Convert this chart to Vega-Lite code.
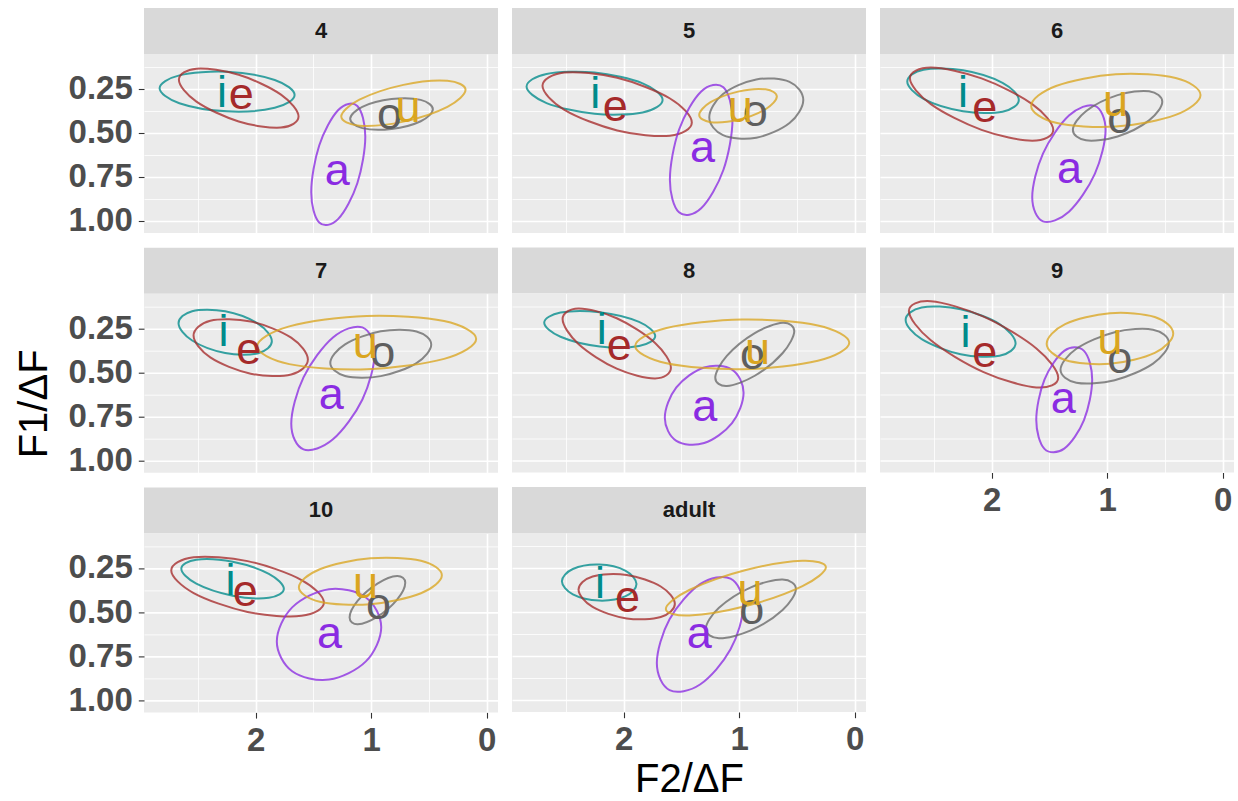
{
"$schema": "https://vega.github.io/schema/vega-lite/v6.json",
"padding": {"left": 15, "top": 8, "right": 0, "bottom": 0},
"title": {"text": "F1/ΔF", "orient": "left", "anchor": "middle", "font": "Liberation Sans", "fontSize": 40, "fontWeight": "normal", "color": "#000000", "offset": 13},
"config": {
  "view": {"stroke": null},
  "axis": {"labelFont": "Liberation Sans", "labelFontSize": 33, "labelFontWeight": "bold", "labelColor": "#4D4D4D", "tickColor": "#333333", "tickSize": 5.7, "tickWidth": 1.1, "labelPadding": 6, "labelFlush": false, "labelOverlap": false, "labelBound": false, "titleFont": "Liberation Sans", "titleFontSize": 40, "titleFontWeight": "normal", "titleColor": "#000000", "titlePadding": 3, "domain": false, "gridColor": "#FFFFFF", "gridOpacity": 1}
},
"datasets": {
"ell": [
{"p":"4","v":"i","k":0,"x":1.663,"y":0.286},{"p":"4","v":"i","k":1,"x":1.835,"y":0.359},{"p":"4","v":"i","k":2,"x":2.248,"y":0.379},{"p":"4","v":"i","k":3,"x":2.661,"y":0.333},{"p":"4","v":"i","k":4,"x":2.832,"y":0.248},{"p":"4","v":"i","k":5,"x":2.661,"y":0.175},{"p":"4","v":"i","k":6,"x":2.248,"y":0.155},{"p":"4","v":"i","k":7,"x":1.835,"y":0.201},
{"p":"4","v":"e","k":0,"x":1.629,"y":0.408},{"p":"4","v":"e","k":1,"x":1.781,"y":0.471},{"p":"4","v":"e","k":2,"x":2.147,"y":0.436},{"p":"4","v":"e","k":3,"x":2.513,"y":0.324},{"p":"4","v":"e","k":4,"x":2.665,"y":0.200},{"p":"4","v":"e","k":5,"x":2.513,"y":0.137},{"p":"4","v":"e","k":6,"x":2.147,"y":0.172},{"p":"4","v":"e","k":7,"x":1.781,"y":0.284},
{"p":"4","v":"a","k":0,"x":1.051,"y":0.521},{"p":"4","v":"a","k":1,"x":1.120,"y":0.786},{"p":"4","v":"a","k":2,"x":1.285,"y":0.988},{"p":"4","v":"a","k":3,"x":1.450,"y":1.009},{"p":"4","v":"a","k":4,"x":1.519,"y":0.837},{"p":"4","v":"a","k":5,"x":1.450,"y":0.572},{"p":"4","v":"a","k":6,"x":1.285,"y":0.371},{"p":"4","v":"a","k":7,"x":1.120,"y":0.349},
{"p":"4","v":"o","k":0,"x":0.466,"y":0.367},{"p":"4","v":"o","k":1,"x":0.571,"y":0.435},{"p":"4","v":"o","k":2,"x":0.824,"y":0.479},{"p":"4","v":"o","k":3,"x":1.077,"y":0.474},{"p":"4","v":"o","k":4,"x":1.182,"y":0.421},{"p":"4","v":"o","k":5,"x":1.077,"y":0.353},{"p":"4","v":"o","k":6,"x":0.824,"y":0.309},{"p":"4","v":"o","k":7,"x":0.571,"y":0.314},
{"p":"4","v":"u","k":0,"x":0.183,"y":0.257},{"p":"4","v":"u","k":1,"x":0.340,"y":0.353},{"p":"4","v":"u","k":2,"x":0.721,"y":0.437},{"p":"4","v":"u","k":3,"x":1.102,"y":0.460},{"p":"4","v":"u","k":4,"x":1.259,"y":0.408},{"p":"4","v":"u","k":5,"x":1.102,"y":0.313},{"p":"4","v":"u","k":6,"x":0.721,"y":0.229},{"p":"4","v":"u","k":7,"x":0.340,"y":0.206},
{"p":"5","v":"i","k":0,"x":1.663,"y":0.314},{"p":"5","v":"i","k":1,"x":1.836,"y":0.385},{"p":"5","v":"i","k":2,"x":2.252,"y":0.393},{"p":"5","v":"i","k":3,"x":2.668,"y":0.332},{"p":"5","v":"i","k":4,"x":2.841,"y":0.238},{"p":"5","v":"i","k":5,"x":2.668,"y":0.167},{"p":"5","v":"i","k":6,"x":2.252,"y":0.159},{"p":"5","v":"i","k":7,"x":1.836,"y":0.220},
{"p":"5","v":"e","k":0,"x":1.410,"y":0.442},{"p":"5","v":"e","k":1,"x":1.599,"y":0.517},{"p":"5","v":"e","k":2,"x":2.056,"y":0.487},{"p":"5","v":"e","k":3,"x":2.513,"y":0.370},{"p":"5","v":"e","k":4,"x":2.703,"y":0.234},{"p":"5","v":"e","k":5,"x":2.513,"y":0.159},{"p":"5","v":"e","k":6,"x":2.056,"y":0.189},{"p":"5","v":"e","k":7,"x":1.599,"y":0.306},
{"p":"5","v":"a","k":0,"x":1.058,"y":0.427},{"p":"5","v":"a","k":1,"x":1.137,"y":0.711},{"p":"5","v":"a","k":2,"x":1.329,"y":0.928},{"p":"5","v":"a","k":3,"x":1.521,"y":0.951},{"p":"5","v":"a","k":4,"x":1.600,"y":0.767},{"p":"5","v":"a","k":5,"x":1.521,"y":0.483},{"p":"5","v":"a","k":6,"x":1.329,"y":0.266},{"p":"5","v":"a","k":7,"x":1.137,"y":0.243},
{"p":"5","v":"o","k":0,"x":0.445,"y":0.314},{"p":"5","v":"o","k":1,"x":0.564,"y":0.445},{"p":"5","v":"o","k":2,"x":0.852,"y":0.528},{"p":"5","v":"o","k":3,"x":1.140,"y":0.514},{"p":"5","v":"o","k":4,"x":1.259,"y":0.412},{"p":"5","v":"o","k":5,"x":1.140,"y":0.281},{"p":"5","v":"o","k":6,"x":0.852,"y":0.198},{"p":"5","v":"o","k":7,"x":0.564,"y":0.212},
{"p":"5","v":"u","k":0,"x":0.674,"y":0.295},{"p":"5","v":"u","k":1,"x":0.772,"y":0.367},{"p":"5","v":"u","k":2,"x":1.010,"y":0.427},{"p":"5","v":"u","k":3,"x":1.248,"y":0.440},{"p":"5","v":"u","k":4,"x":1.346,"y":0.399},{"p":"5","v":"u","k":5,"x":1.248,"y":0.327},{"p":"5","v":"u","k":6,"x":1.010,"y":0.267},{"p":"5","v":"u","k":7,"x":0.772,"y":0.254},
{"p":"6","v":"i","k":0,"x":1.765,"y":0.314},{"p":"6","v":"i","k":1,"x":1.906,"y":0.381},{"p":"6","v":"i","k":2,"x":2.248,"y":0.378},{"p":"6","v":"i","k":3,"x":2.590,"y":0.308},{"p":"6","v":"i","k":4,"x":2.731,"y":0.210},{"p":"6","v":"i","k":5,"x":2.590,"y":0.143},{"p":"6","v":"i","k":6,"x":2.248,"y":0.146},{"p":"6","v":"i","k":7,"x":1.906,"y":0.217},
{"p":"6","v":"e","k":0,"x":1.467,"y":0.484},{"p":"6","v":"e","k":1,"x":1.649,"y":0.545},{"p":"6","v":"e","k":2,"x":2.088,"y":0.484},{"p":"6","v":"e","k":3,"x":2.527,"y":0.338},{"p":"6","v":"e","k":4,"x":2.708,"y":0.192},{"p":"6","v":"e","k":5,"x":2.527,"y":0.131},{"p":"6","v":"e","k":6,"x":2.088,"y":0.192},{"p":"6","v":"e","k":7,"x":1.649,"y":0.338},
{"p":"6","v":"a","k":0,"x":1.014,"y":0.484},{"p":"6","v":"a","k":1,"x":1.107,"y":0.733},{"p":"6","v":"a","k":2,"x":1.331,"y":0.947},{"p":"6","v":"a","k":3,"x":1.556,"y":1.002},{"p":"6","v":"a","k":4,"x":1.649,"y":0.866},{"p":"6","v":"a","k":5,"x":1.556,"y":0.618},{"p":"6","v":"a","k":6,"x":1.331,"y":0.403},{"p":"6","v":"a","k":7,"x":1.107,"y":0.348},
{"p":"6","v":"o","k":0,"x":0.523,"y":0.324},{"p":"6","v":"o","k":1,"x":0.637,"y":0.430},{"p":"6","v":"o","k":2,"x":0.910,"y":0.521},{"p":"6","v":"o","k":3,"x":1.184,"y":0.543},{"p":"6","v":"o","k":4,"x":1.297,"y":0.484},{"p":"6","v":"o","k":5,"x":1.184,"y":0.378},{"p":"6","v":"o","k":6,"x":0.910,"y":0.287},{"p":"6","v":"o","k":7,"x":0.637,"y":0.265},
{"p":"6","v":"u","k":0,"x":0.192,"y":0.286},{"p":"6","v":"u","k":1,"x":0.407,"y":0.399},{"p":"6","v":"u","k":2,"x":0.925,"y":0.465},{"p":"6","v":"u","k":3,"x":1.443,"y":0.444},{"p":"6","v":"u","k":4,"x":1.658,"y":0.348},{"p":"6","v":"u","k":5,"x":1.443,"y":0.235},{"p":"6","v":"u","k":6,"x":0.925,"y":0.169},{"p":"6","v":"u","k":7,"x":0.407,"y":0.190},
{"p":"7","v":"i","k":0,"x":1.860,"y":0.323},{"p":"7","v":"i","k":1,"x":1.978,"y":0.391},{"p":"7","v":"i","k":2,"x":2.264,"y":0.390},{"p":"7","v":"i","k":3,"x":2.550,"y":0.319},{"p":"7","v":"i","k":4,"x":2.668,"y":0.221},{"p":"7","v":"i","k":5,"x":2.550,"y":0.153},{"p":"7","v":"i","k":6,"x":2.264,"y":0.154},{"p":"7","v":"i","k":7,"x":1.978,"y":0.225},
{"p":"7","v":"e","k":0,"x":1.548,"y":0.427},{"p":"7","v":"e","k":1,"x":1.693,"y":0.512},{"p":"7","v":"e","k":2,"x":2.043,"y":0.507},{"p":"7","v":"e","k":3,"x":2.393,"y":0.415},{"p":"7","v":"e","k":4,"x":2.538,"y":0.291},{"p":"7","v":"e","k":5,"x":2.393,"y":0.207},{"p":"7","v":"e","k":6,"x":2.043,"y":0.212},{"p":"7","v":"e","k":7,"x":1.693,"y":0.303},
{"p":"7","v":"a","k":0,"x":0.970,"y":0.390},{"p":"7","v":"a","k":1,"x":1.076,"y":0.653},{"p":"7","v":"a","k":2,"x":1.331,"y":0.879},{"p":"7","v":"a","k":3,"x":1.586,"y":0.936},{"p":"7","v":"a","k":4,"x":1.692,"y":0.790},{"p":"7","v":"a","k":5,"x":1.586,"y":0.528},{"p":"7","v":"a","k":6,"x":1.331,"y":0.302},{"p":"7","v":"a","k":7,"x":1.076,"y":0.245},
{"p":"7","v":"o","k":0,"x":0.480,"y":0.342},{"p":"7","v":"o","k":1,"x":0.608,"y":0.447},{"p":"7","v":"o","k":2,"x":0.917,"y":0.521},{"p":"7","v":"o","k":3,"x":1.226,"y":0.520},{"p":"7","v":"o","k":4,"x":1.354,"y":0.446},{"p":"7","v":"o","k":5,"x":1.226,"y":0.341},{"p":"7","v":"o","k":6,"x":0.917,"y":0.267},{"p":"7","v":"o","k":7,"x":0.608,"y":0.268},
{"p":"7","v":"u","k":0,"x":0.091,"y":0.310},{"p":"7","v":"u","k":1,"x":0.369,"y":0.423},{"p":"7","v":"u","k":2,"x":1.039,"y":0.482},{"p":"7","v":"u","k":3,"x":1.709,"y":0.453},{"p":"7","v":"u","k":4,"x":1.987,"y":0.352},{"p":"7","v":"u","k":5,"x":1.709,"y":0.239},{"p":"7","v":"u","k":6,"x":1.039,"y":0.180},{"p":"7","v":"u","k":7,"x":0.369,"y":0.209},
{"p":"8","v":"i","k":0,"x":1.727,"y":0.295},{"p":"8","v":"i","k":1,"x":1.867,"y":0.352},{"p":"8","v":"i","k":2,"x":2.207,"y":0.354},{"p":"8","v":"i","k":3,"x":2.547,"y":0.299},{"p":"8","v":"i","k":4,"x":2.688,"y":0.219},{"p":"8","v":"i","k":5,"x":2.547,"y":0.162},{"p":"8","v":"i","k":6,"x":2.207,"y":0.160},{"p":"8","v":"i","k":7,"x":1.867,"y":0.215},
{"p":"8","v":"e","k":0,"x":1.591,"y":0.475},{"p":"8","v":"e","k":1,"x":1.728,"y":0.535},{"p":"8","v":"e","k":2,"x":2.060,"y":0.480},{"p":"8","v":"e","k":3,"x":2.392,"y":0.340},{"p":"8","v":"e","k":4,"x":2.529,"y":0.199},{"p":"8","v":"e","k":5,"x":2.392,"y":0.139},{"p":"8","v":"e","k":6,"x":2.060,"y":0.194},{"p":"8","v":"e","k":7,"x":1.728,"y":0.334},
{"p":"8","v":"a","k":0,"x":0.962,"y":0.616},{"p":"8","v":"a","k":1,"x":1.062,"y":0.788},{"p":"8","v":"a","k":2,"x":1.303,"y":0.901},{"p":"8","v":"a","k":3,"x":1.544,"y":0.889},{"p":"8","v":"a","k":4,"x":1.644,"y":0.758},{"p":"8","v":"a","k":5,"x":1.544,"y":0.586},{"p":"8","v":"a","k":6,"x":1.303,"y":0.473},{"p":"8","v":"a","k":7,"x":1.062,"y":0.485},
{"p":"8","v":"o","k":0,"x":0.523,"y":0.267},{"p":"8","v":"o","k":1,"x":0.623,"y":0.391},{"p":"8","v":"o","k":2,"x":0.865,"y":0.520},{"p":"8","v":"o","k":3,"x":1.107,"y":0.578},{"p":"8","v":"o","k":4,"x":1.207,"y":0.531},{"p":"8","v":"o","k":5,"x":1.107,"y":0.407},{"p":"8","v":"o","k":6,"x":0.865,"y":0.278},{"p":"8","v":"o","k":7,"x":0.623,"y":0.220},
{"p":"8","v":"u","k":0,"x":0.047,"y":0.333},{"p":"8","v":"u","k":1,"x":0.319,"y":0.435},{"p":"8","v":"u","k":2,"x":0.974,"y":0.483},{"p":"8","v":"u","k":3,"x":1.629,"y":0.449},{"p":"8","v":"u","k":4,"x":1.900,"y":0.351},{"p":"8","v":"u","k":5,"x":1.629,"y":0.249},{"p":"8","v":"u","k":6,"x":0.974,"y":0.201},{"p":"8","v":"u","k":7,"x":0.319,"y":0.235},
{"p":"9","v":"i","k":0,"x":1.793,"y":0.336},{"p":"9","v":"i","k":1,"x":1.932,"y":0.407},{"p":"9","v":"i","k":2,"x":2.269,"y":0.398},{"p":"9","v":"i","k":3,"x":2.606,"y":0.313},{"p":"9","v":"i","k":4,"x":2.745,"y":0.204},{"p":"9","v":"i","k":5,"x":2.606,"y":0.133},{"p":"9","v":"i","k":6,"x":2.269,"y":0.143},{"p":"9","v":"i","k":7,"x":1.932,"y":0.227},
{"p":"9","v":"e","k":0,"x":1.424,"y":0.531},{"p":"9","v":"e","k":1,"x":1.613,"y":0.586},{"p":"9","v":"e","k":2,"x":2.070,"y":0.499},{"p":"9","v":"e","k":3,"x":2.527,"y":0.319},{"p":"9","v":"e","k":4,"x":2.717,"y":0.153},{"p":"9","v":"e","k":5,"x":2.527,"y":0.098},{"p":"9","v":"e","k":6,"x":2.070,"y":0.185},{"p":"9","v":"e","k":7,"x":1.613,"y":0.365},
{"p":"9","v":"a","k":0,"x":1.130,"y":0.541},{"p":"9","v":"a","k":1,"x":1.201,"y":0.771},{"p":"9","v":"a","k":2,"x":1.372,"y":0.933},{"p":"9","v":"a","k":3,"x":1.543,"y":0.934},{"p":"9","v":"a","k":4,"x":1.614,"y":0.771},{"p":"9","v":"a","k":5,"x":1.543,"y":0.542},{"p":"9","v":"a","k":6,"x":1.372,"y":0.379},{"p":"9","v":"a","k":7,"x":1.201,"y":0.379},
{"p":"9","v":"o","k":0,"x":0.466,"y":0.333},{"p":"9","v":"o","k":1,"x":0.603,"y":0.451},{"p":"9","v":"o","k":2,"x":0.935,"y":0.545},{"p":"9","v":"o","k":3,"x":1.267,"y":0.559},{"p":"9","v":"o","k":4,"x":1.404,"y":0.486},{"p":"9","v":"o","k":5,"x":1.267,"y":0.367},{"p":"9","v":"o","k":6,"x":0.935,"y":0.273},{"p":"9","v":"o","k":7,"x":0.603,"y":0.259},
{"p":"9","v":"u","k":0,"x":0.428,"y":0.280},{"p":"9","v":"u","k":1,"x":0.588,"y":0.390},{"p":"9","v":"u","k":2,"x":0.976,"y":0.452},{"p":"9","v":"u","k":3,"x":1.364,"y":0.431},{"p":"9","v":"u","k":4,"x":1.524,"y":0.338},{"p":"9","v":"u","k":5,"x":1.364,"y":0.228},{"p":"9","v":"u","k":6,"x":0.976,"y":0.166},{"p":"9","v":"u","k":7,"x":0.588,"y":0.187},
{"p":"10","v":"i","k":0,"x":1.756,"y":0.368},{"p":"10","v":"i","k":1,"x":1.886,"y":0.419},{"p":"10","v":"i","k":2,"x":2.200,"y":0.407},{"p":"10","v":"i","k":3,"x":2.514,"y":0.339},{"p":"10","v":"i","k":4,"x":2.644,"y":0.254},{"p":"10","v":"i","k":5,"x":2.514,"y":0.203},{"p":"10","v":"i","k":6,"x":2.200,"y":0.215},{"p":"10","v":"i","k":7,"x":1.886,"y":0.283},
{"p":"10","v":"e","k":0,"x":1.409,"y":0.446},{"p":"10","v":"e","k":1,"x":1.603,"y":0.521},{"p":"10","v":"e","k":2,"x":2.070,"y":0.499},{"p":"10","v":"e","k":3,"x":2.537,"y":0.392},{"p":"10","v":"e","k":4,"x":2.731,"y":0.264},{"p":"10","v":"e","k":5,"x":2.537,"y":0.189},{"p":"10","v":"e","k":6,"x":2.070,"y":0.211},{"p":"10","v":"e","k":7,"x":1.603,"y":0.318},
{"p":"10","v":"a","k":0,"x":0.913,"y":0.586},{"p":"10","v":"a","k":1,"x":1.046,"y":0.779},{"p":"10","v":"a","k":2,"x":1.365,"y":0.882},{"p":"10","v":"a","k":3,"x":1.684,"y":0.835},{"p":"10","v":"a","k":4,"x":1.817,"y":0.666},{"p":"10","v":"a","k":5,"x":1.684,"y":0.473},{"p":"10","v":"a","k":6,"x":1.365,"y":0.370},{"p":"10","v":"a","k":7,"x":1.046,"y":0.417},
{"p":"10","v":"o","k":0,"x":0.705,"y":0.333},{"p":"10","v":"o","k":1,"x":0.776,"y":0.429},{"p":"10","v":"o","k":2,"x":0.946,"y":0.526},{"p":"10","v":"o","k":3,"x":1.116,"y":0.569},{"p":"10","v":"o","k":4,"x":1.187,"y":0.531},{"p":"10","v":"o","k":5,"x":1.116,"y":0.435},{"p":"10","v":"o","k":6,"x":0.946,"y":0.338},{"p":"10","v":"o","k":7,"x":0.776,"y":0.295},
{"p":"10","v":"u","k":0,"x":0.388,"y":0.291},{"p":"10","v":"u","k":1,"x":0.569,"y":0.393},{"p":"10","v":"u","k":2,"x":1.007,"y":0.455},{"p":"10","v":"u","k":3,"x":1.445,"y":0.441},{"p":"10","v":"u","k":4,"x":1.626,"y":0.359},{"p":"10","v":"u","k":5,"x":1.445,"y":0.257},{"p":"10","v":"u","k":6,"x":1.007,"y":0.195},{"p":"10","v":"u","k":7,"x":0.569,"y":0.209},
{"p":"adult","v":"i","k":0,"x":1.889,"y":0.343},{"p":"adult","v":"i","k":1,"x":1.983,"y":0.412},{"p":"adult","v":"i","k":2,"x":2.212,"y":0.437},{"p":"adult","v":"i","k":3,"x":2.440,"y":0.402},{"p":"adult","v":"i","k":4,"x":2.535,"y":0.327},{"p":"adult","v":"i","k":5,"x":2.440,"y":0.258},{"p":"adult","v":"i","k":6,"x":2.212,"y":0.233},{"p":"adult","v":"i","k":7,"x":1.983,"y":0.268},
{"p":"adult","v":"e","k":0,"x":1.557,"y":0.456},{"p":"adult","v":"e","k":1,"x":1.679,"y":0.530},{"p":"adult","v":"e","k":2,"x":1.974,"y":0.538},{"p":"adult","v":"e","k":3,"x":2.269,"y":0.473},{"p":"adult","v":"e","k":4,"x":2.391,"y":0.374},{"p":"adult","v":"e","k":5,"x":2.269,"y":0.300},{"p":"adult","v":"e","k":6,"x":1.974,"y":0.292},{"p":"adult","v":"e","k":7,"x":1.679,"y":0.357},
{"p":"adult","v":"a","k":0,"x":0.965,"y":0.465},{"p":"adult","v":"a","k":1,"x":1.075,"y":0.713},{"p":"adult","v":"a","k":2,"x":1.339,"y":0.912},{"p":"adult","v":"a","k":3,"x":1.603,"y":0.944},{"p":"adult","v":"a","k":4,"x":1.713,"y":0.791},{"p":"adult","v":"a","k":5,"x":1.603,"y":0.543},{"p":"adult","v":"a","k":6,"x":1.339,"y":0.344},{"p":"adult","v":"a","k":7,"x":1.075,"y":0.312},
{"p":"adult","v":"o","k":0,"x":0.509,"y":0.371},{"p":"adult","v":"o","k":1,"x":0.624,"y":0.490},{"p":"adult","v":"o","k":2,"x":0.899,"y":0.606},{"p":"adult","v":"o","k":3,"x":1.175,"y":0.650},{"p":"adult","v":"o","k":4,"x":1.289,"y":0.597},{"p":"adult","v":"o","k":5,"x":1.175,"y":0.478},{"p":"adult","v":"o","k":6,"x":0.899,"y":0.362},{"p":"adult","v":"o","k":7,"x":0.624,"y":0.318},
{"p":"adult","v":"u","k":0,"x":0.249,"y":0.248},{"p":"adult","v":"u","k":1,"x":0.452,"y":0.355},{"p":"adult","v":"u","k":2,"x":0.942,"y":0.468},{"p":"adult","v":"u","k":3,"x":1.432,"y":0.521},{"p":"adult","v":"u","k":4,"x":1.635,"y":0.484},{"p":"adult","v":"u","k":5,"x":1.432,"y":0.377},{"p":"adult","v":"u","k":6,"x":0.942,"y":0.264},{"p":"adult","v":"u","k":7,"x":0.452,"y":0.211}
],
"lab": [
{"p":"4","v":"i","x":2.292,"y":0.352},{"p":"4","v":"e","x":2.125,"y":0.363},{"p":"4","v":"a","x":1.294,"y":0.797},{"p":"4","v":"o","x":0.841,"y":0.480},{"p":"4","v":"u","x":0.682,"y":0.437},
{"p":"5","v":"i","x":2.246,"y":0.361},{"p":"5","v":"e","x":2.073,"y":0.433},{"p":"5","v":"a","x":1.317,"y":0.663},{"p":"5","v":"o","x":0.861,"y":0.461},{"p":"5","v":"u","x":0.991,"y":0.442},
{"p":"6","v":"i","x":2.249,"y":0.352},{"p":"6","v":"e","x":2.059,"y":0.440},{"p":"6","v":"a","x":1.326,"y":0.786},{"p":"6","v":"o","x":0.890,"y":0.499},{"p":"6","v":"u","x":0.927,"y":0.408},
{"p":"7","v":"i","x":2.278,"y":0.352},{"p":"7","v":"e","x":2.059,"y":0.450},{"p":"7","v":"a","x":1.346,"y":0.707},{"p":"7","v":"o","x":0.899,"y":0.469},{"p":"7","v":"u","x":1.052,"y":0.418},
{"p":"8","v":"i","x":2.191,"y":0.342},{"p":"8","v":"e","x":2.039,"y":0.431},{"p":"8","v":"a","x":1.297,"y":0.777},{"p":"8","v":"o","x":0.884,"y":0.480},{"p":"8","v":"u","x":0.841,"y":0.456},
{"p":"9","v":"i","x":2.226,"y":0.357},{"p":"9","v":"e","x":2.059,"y":0.469},{"p":"9","v":"a","x":1.381,"y":0.733},{"p":"9","v":"o","x":0.890,"y":0.503},{"p":"9","v":"u","x":0.976,"y":0.399},
{"p":"10","v":"i","x":2.217,"y":0.405},{"p":"10","v":"e","x":2.090,"y":0.463},{"p":"10","v":"a","x":1.360,"y":0.701},{"p":"10","v":"o","x":0.936,"y":0.540},{"p":"10","v":"u","x":1.049,"y":0.418},
{"p":"adult","v":"i","x":2.206,"y":0.422},{"p":"adult","v":"e","x":1.966,"y":0.501},{"p":"adult","v":"a","x":1.346,"y":0.705},{"p":"adult","v":"o","x":0.890,"y":0.569},{"p":"adult","v":"u","x":0.907,"y":0.461}
]
},
"hconcat": [
{"spacing": 9.7, "vconcat": [
 {"spacing": 0, "bounds": "flush", "vconcat": [
  {"width": 354, "height": 46, "view": {"fill": "#D9D9D9", "stroke": null}, "data": {"values": [{"p": "4"}]}, "mark": {"type": "text", "font": "Liberation Sans", "fontSize": 22, "fontWeight": "bold", "color": "#1A1A1A", "baseline": "middle"}, "encoding": {"text": {"field": "p", "type": "nominal"}}},
  {"width": 354, "height": 179, "view": {"fill": "#EBEBEB", "stroke": null},
   "encoding": {
    "x": {"field": "x", "type": "quantitative", "scale": {"domain": [-0.098, 2.967], "reverse": true, "nice": false, "zero": false}, "axis": {"values": [0, 0.5, 1, 1.5, 2, 2.5], "labels": false, "ticks": false, "title": null, "gridWidth": {"condition": {"test": "datum.value % 1 === 0", "value": 1.6}, "value": 0.8}}},
    "y": {"field": "y", "type": "quantitative", "scale": {"domain": [0.054, 1.068], "reverse": true, "nice": false, "zero": false}, "axis": {"values": [0.125, 0.25, 0.375, 0.5, 0.625, 0.75, 0.875, 1], "title": null, "labelExpr": "(datum.value*4) % 1 === 0 ? format(datum.value, '.2f') : ''", "tickOpacity": {"condition": {"test": "(datum.value*4) % 1 === 0", "value": 1}, "value": 0}, "gridWidth": {"condition": {"test": "(datum.value*4) % 1 === 0", "value": 1.6}, "value": 0.8}}}
   },
   "layer": [
    {"data": {"name": "ell"}, "transform": [{"filter": "datum.p === '4'"}], "mark": {"type": "line", "interpolate": "cardinal-closed", "strokeWidth": 2, "opacity": 0.78}, "encoding": {"order": {"field": "k", "type": "quantitative"}, "detail": {"field": "v", "type": "nominal"}, "stroke": {"field": "v", "type": "nominal", "scale": {"domain": ["i", "e", "a", "o", "u"], "range": ["#008B8B", "#A52A2A", "#8A2BE2", "#696969", "#DAA520"]}, "legend": null}}},
    {"data": {"name": "lab"}, "transform": [{"filter": "datum.p === '4'"}], "mark": {"type": "text", "font": "Liberation Sans", "fontSize": 45, "align": "center", "baseline": "alphabetic"}, "encoding": {"text": {"field": "v", "type": "nominal"}, "fill": {"field": "v", "type": "nominal", "scale": {"domain": ["i", "e", "a", "o", "u"], "range": ["#008B8B", "#A52A2A", "#8A2BE2", "#5E5E5E", "#DAA520"]}, "legend": null}}}
   ]}
 ]},
 {"spacing": 0, "bounds": "flush", "vconcat": [
  {"width": 354, "height": 46, "view": {"fill": "#D9D9D9", "stroke": null}, "data": {"values": [{"p": "7"}]}, "mark": {"type": "text", "font": "Liberation Sans", "fontSize": 22, "fontWeight": "bold", "color": "#1A1A1A", "baseline": "middle"}, "encoding": {"text": {"field": "p", "type": "nominal"}}},
  {"width": 354, "height": 179, "view": {"fill": "#EBEBEB", "stroke": null},
   "encoding": {
    "x": {"field": "x", "type": "quantitative", "scale": {"domain": [-0.098, 2.967], "reverse": true, "nice": false, "zero": false}, "axis": {"values": [0, 0.5, 1, 1.5, 2, 2.5], "labels": false, "ticks": false, "title": null, "gridWidth": {"condition": {"test": "datum.value % 1 === 0", "value": 1.6}, "value": 0.8}}},
    "y": {"field": "y", "type": "quantitative", "scale": {"domain": [0.054, 1.068], "reverse": true, "nice": false, "zero": false}, "axis": {"values": [0.125, 0.25, 0.375, 0.5, 0.625, 0.75, 0.875, 1], "title": null, "labelExpr": "(datum.value*4) % 1 === 0 ? format(datum.value, '.2f') : ''", "tickOpacity": {"condition": {"test": "(datum.value*4) % 1 === 0", "value": 1}, "value": 0}, "gridWidth": {"condition": {"test": "(datum.value*4) % 1 === 0", "value": 1.6}, "value": 0.8}}}
   },
   "layer": [
    {"data": {"name": "ell"}, "transform": [{"filter": "datum.p === '7'"}], "mark": {"type": "line", "interpolate": "cardinal-closed", "strokeWidth": 2, "opacity": 0.78}, "encoding": {"order": {"field": "k", "type": "quantitative"}, "detail": {"field": "v", "type": "nominal"}, "stroke": {"field": "v", "type": "nominal", "scale": {"domain": ["i", "e", "a", "o", "u"], "range": ["#008B8B", "#A52A2A", "#8A2BE2", "#696969", "#DAA520"]}, "legend": null}}},
    {"data": {"name": "lab"}, "transform": [{"filter": "datum.p === '7'"}], "mark": {"type": "text", "font": "Liberation Sans", "fontSize": 45, "align": "center", "baseline": "alphabetic"}, "encoding": {"text": {"field": "v", "type": "nominal"}, "fill": {"field": "v", "type": "nominal", "scale": {"domain": ["i", "e", "a", "o", "u"], "range": ["#008B8B", "#A52A2A", "#8A2BE2", "#5E5E5E", "#DAA520"]}, "legend": null}}}
   ]}
 ]},
 {"spacing": 0, "bounds": "flush", "vconcat": [
  {"width": 354, "height": 46, "view": {"fill": "#D9D9D9", "stroke": null}, "data": {"values": [{"p": "10"}]}, "mark": {"type": "text", "font": "Liberation Sans", "fontSize": 22, "fontWeight": "bold", "color": "#1A1A1A", "baseline": "middle"}, "encoding": {"text": {"field": "p", "type": "nominal"}}},
  {"width": 354, "height": 179, "view": {"fill": "#EBEBEB", "stroke": null},
   "encoding": {
    "x": {"field": "x", "type": "quantitative", "scale": {"domain": [-0.098, 2.967], "reverse": true, "nice": false, "zero": false}, "axis": {"values": [0, 0.5, 1, 1.5, 2, 2.5], "title": null, "labelExpr": "datum.value % 1 === 0 ? format(datum.value, 'd') : ''", "tickOpacity": {"condition": {"test": "datum.value % 1 === 0", "value": 1}, "value": 0}, "gridWidth": {"condition": {"test": "datum.value % 1 === 0", "value": 1.6}, "value": 0.8}}},
    "y": {"field": "y", "type": "quantitative", "scale": {"domain": [0.054, 1.068], "reverse": true, "nice": false, "zero": false}, "axis": {"values": [0.125, 0.25, 0.375, 0.5, 0.625, 0.75, 0.875, 1], "title": null, "labelExpr": "(datum.value*4) % 1 === 0 ? format(datum.value, '.2f') : ''", "tickOpacity": {"condition": {"test": "(datum.value*4) % 1 === 0", "value": 1}, "value": 0}, "gridWidth": {"condition": {"test": "(datum.value*4) % 1 === 0", "value": 1.6}, "value": 0.8}}}
   },
   "layer": [
    {"data": {"name": "ell"}, "transform": [{"filter": "datum.p === '10'"}], "mark": {"type": "line", "interpolate": "cardinal-closed", "strokeWidth": 2, "opacity": 0.78}, "encoding": {"order": {"field": "k", "type": "quantitative"}, "detail": {"field": "v", "type": "nominal"}, "stroke": {"field": "v", "type": "nominal", "scale": {"domain": ["i", "e", "a", "o", "u"], "range": ["#008B8B", "#A52A2A", "#8A2BE2", "#696969", "#DAA520"]}, "legend": null}}},
    {"data": {"name": "lab"}, "transform": [{"filter": "datum.p === '10'"}], "mark": {"type": "text", "font": "Liberation Sans", "fontSize": 45, "align": "center", "baseline": "alphabetic"}, "encoding": {"text": {"field": "v", "type": "nominal"}, "fill": {"field": "v", "type": "nominal", "scale": {"domain": ["i", "e", "a", "o", "u"], "range": ["#008B8B", "#A52A2A", "#8A2BE2", "#5E5E5E", "#DAA520"]}, "legend": null}}}
   ]}
 ]}
]},
{"spacing": 14.5, "vconcat": [
 {"spacing": 0, "bounds": "flush", "vconcat": [
  {"width": 354, "height": 46, "view": {"fill": "#D9D9D9", "stroke": null}, "data": {"values": [{"p": "5"}]}, "mark": {"type": "text", "font": "Liberation Sans", "fontSize": 22, "fontWeight": "bold", "color": "#1A1A1A", "baseline": "middle"}, "encoding": {"text": {"field": "p", "type": "nominal"}}},
  {"width": 354, "height": 179, "view": {"fill": "#EBEBEB", "stroke": null},
   "encoding": {
    "x": {"field": "x", "type": "quantitative", "scale": {"domain": [-0.098, 2.967], "reverse": true, "nice": false, "zero": false}, "axis": {"values": [0, 0.5, 1, 1.5, 2, 2.5], "labels": false, "ticks": false, "title": null, "gridWidth": {"condition": {"test": "datum.value % 1 === 0", "value": 1.6}, "value": 0.8}}},
    "y": {"field": "y", "type": "quantitative", "scale": {"domain": [0.054, 1.068], "reverse": true, "nice": false, "zero": false}, "axis": {"values": [0.125, 0.25, 0.375, 0.5, 0.625, 0.75, 0.875, 1], "labels": false, "ticks": false, "title": null, "gridWidth": {"condition": {"test": "(datum.value*4) % 1 === 0", "value": 1.6}, "value": 0.8}}}
   },
   "layer": [
    {"data": {"name": "ell"}, "transform": [{"filter": "datum.p === '5'"}], "mark": {"type": "line", "interpolate": "cardinal-closed", "strokeWidth": 2, "opacity": 0.78}, "encoding": {"order": {"field": "k", "type": "quantitative"}, "detail": {"field": "v", "type": "nominal"}, "stroke": {"field": "v", "type": "nominal", "scale": {"domain": ["i", "e", "a", "o", "u"], "range": ["#008B8B", "#A52A2A", "#8A2BE2", "#696969", "#DAA520"]}, "legend": null}}},
    {"data": {"name": "lab"}, "transform": [{"filter": "datum.p === '5'"}], "mark": {"type": "text", "font": "Liberation Sans", "fontSize": 45, "align": "center", "baseline": "alphabetic"}, "encoding": {"text": {"field": "v", "type": "nominal"}, "fill": {"field": "v", "type": "nominal", "scale": {"domain": ["i", "e", "a", "o", "u"], "range": ["#008B8B", "#A52A2A", "#8A2BE2", "#5E5E5E", "#DAA520"]}, "legend": null}}}
   ]}
 ]},
 {"spacing": 0, "bounds": "flush", "vconcat": [
  {"width": 354, "height": 46, "view": {"fill": "#D9D9D9", "stroke": null}, "data": {"values": [{"p": "8"}]}, "mark": {"type": "text", "font": "Liberation Sans", "fontSize": 22, "fontWeight": "bold", "color": "#1A1A1A", "baseline": "middle"}, "encoding": {"text": {"field": "p", "type": "nominal"}}},
  {"width": 354, "height": 179, "view": {"fill": "#EBEBEB", "stroke": null},
   "encoding": {
    "x": {"field": "x", "type": "quantitative", "scale": {"domain": [-0.098, 2.967], "reverse": true, "nice": false, "zero": false}, "axis": {"values": [0, 0.5, 1, 1.5, 2, 2.5], "labels": false, "ticks": false, "title": null, "gridWidth": {"condition": {"test": "datum.value % 1 === 0", "value": 1.6}, "value": 0.8}}},
    "y": {"field": "y", "type": "quantitative", "scale": {"domain": [0.054, 1.068], "reverse": true, "nice": false, "zero": false}, "axis": {"values": [0.125, 0.25, 0.375, 0.5, 0.625, 0.75, 0.875, 1], "labels": false, "ticks": false, "title": null, "gridWidth": {"condition": {"test": "(datum.value*4) % 1 === 0", "value": 1.6}, "value": 0.8}}}
   },
   "layer": [
    {"data": {"name": "ell"}, "transform": [{"filter": "datum.p === '8'"}], "mark": {"type": "line", "interpolate": "cardinal-closed", "strokeWidth": 2, "opacity": 0.78}, "encoding": {"order": {"field": "k", "type": "quantitative"}, "detail": {"field": "v", "type": "nominal"}, "stroke": {"field": "v", "type": "nominal", "scale": {"domain": ["i", "e", "a", "o", "u"], "range": ["#008B8B", "#A52A2A", "#8A2BE2", "#696969", "#DAA520"]}, "legend": null}}},
    {"data": {"name": "lab"}, "transform": [{"filter": "datum.p === '8'"}], "mark": {"type": "text", "font": "Liberation Sans", "fontSize": 45, "align": "center", "baseline": "alphabetic"}, "encoding": {"text": {"field": "v", "type": "nominal"}, "fill": {"field": "v", "type": "nominal", "scale": {"domain": ["i", "e", "a", "o", "u"], "range": ["#008B8B", "#A52A2A", "#8A2BE2", "#5E5E5E", "#DAA520"]}, "legend": null}}}
   ]}
 ]},
 {"spacing": 0, "bounds": "flush", "vconcat": [
  {"width": 354, "height": 46, "view": {"fill": "#D9D9D9", "stroke": null}, "data": {"values": [{"p": "adult"}]}, "mark": {"type": "text", "font": "Liberation Sans", "fontSize": 22, "fontWeight": "bold", "color": "#1A1A1A", "baseline": "middle"}, "encoding": {"text": {"field": "p", "type": "nominal"}}},
  {"width": 354, "height": 179, "view": {"fill": "#EBEBEB", "stroke": null},
   "encoding": {
    "x": {"field": "x", "type": "quantitative", "scale": {"domain": [-0.098, 2.967], "reverse": true, "nice": false, "zero": false}, "axis": {"values": [0, 0.5, 1, 1.5, 2, 2.5], "title": "F2/ΔF", "labelExpr": "datum.value % 1 === 0 ? format(datum.value, 'd') : ''", "tickOpacity": {"condition": {"test": "datum.value % 1 === 0", "value": 1}, "value": 0}, "gridWidth": {"condition": {"test": "datum.value % 1 === 0", "value": 1.6}, "value": 0.8}}},
    "y": {"field": "y", "type": "quantitative", "scale": {"domain": [0.054, 1.068], "reverse": true, "nice": false, "zero": false}, "axis": {"values": [0.125, 0.25, 0.375, 0.5, 0.625, 0.75, 0.875, 1], "labels": false, "ticks": false, "title": null, "gridWidth": {"condition": {"test": "(datum.value*4) % 1 === 0", "value": 1.6}, "value": 0.8}}}
   },
   "layer": [
    {"data": {"name": "ell"}, "transform": [{"filter": "datum.p === 'adult'"}], "mark": {"type": "line", "interpolate": "cardinal-closed", "strokeWidth": 2, "opacity": 0.78}, "encoding": {"order": {"field": "k", "type": "quantitative"}, "detail": {"field": "v", "type": "nominal"}, "stroke": {"field": "v", "type": "nominal", "scale": {"domain": ["i", "e", "a", "o", "u"], "range": ["#008B8B", "#A52A2A", "#8A2BE2", "#696969", "#DAA520"]}, "legend": null}}},
    {"data": {"name": "lab"}, "transform": [{"filter": "datum.p === 'adult'"}], "mark": {"type": "text", "font": "Liberation Sans", "fontSize": 45, "align": "center", "baseline": "alphabetic"}, "encoding": {"text": {"field": "v", "type": "nominal"}, "fill": {"field": "v", "type": "nominal", "scale": {"domain": ["i", "e", "a", "o", "u"], "range": ["#008B8B", "#A52A2A", "#8A2BE2", "#5E5E5E", "#DAA520"]}, "legend": null}}}
   ]}
 ]}
]},
{"spacing": 14.5, "vconcat": [
 {"spacing": 0, "bounds": "flush", "vconcat": [
  {"width": 354, "height": 46, "view": {"fill": "#D9D9D9", "stroke": null}, "data": {"values": [{"p": "6"}]}, "mark": {"type": "text", "font": "Liberation Sans", "fontSize": 22, "fontWeight": "bold", "color": "#1A1A1A", "baseline": "middle"}, "encoding": {"text": {"field": "p", "type": "nominal"}}},
  {"width": 354, "height": 179, "view": {"fill": "#EBEBEB", "stroke": null},
   "encoding": {
    "x": {"field": "x", "type": "quantitative", "scale": {"domain": [-0.098, 2.967], "reverse": true, "nice": false, "zero": false}, "axis": {"values": [0, 0.5, 1, 1.5, 2, 2.5], "labels": false, "ticks": false, "title": null, "gridWidth": {"condition": {"test": "datum.value % 1 === 0", "value": 1.6}, "value": 0.8}}},
    "y": {"field": "y", "type": "quantitative", "scale": {"domain": [0.054, 1.068], "reverse": true, "nice": false, "zero": false}, "axis": {"values": [0.125, 0.25, 0.375, 0.5, 0.625, 0.75, 0.875, 1], "labels": false, "ticks": false, "title": null, "gridWidth": {"condition": {"test": "(datum.value*4) % 1 === 0", "value": 1.6}, "value": 0.8}}}
   },
   "layer": [
    {"data": {"name": "ell"}, "transform": [{"filter": "datum.p === '6'"}], "mark": {"type": "line", "interpolate": "cardinal-closed", "strokeWidth": 2, "opacity": 0.78}, "encoding": {"order": {"field": "k", "type": "quantitative"}, "detail": {"field": "v", "type": "nominal"}, "stroke": {"field": "v", "type": "nominal", "scale": {"domain": ["i", "e", "a", "o", "u"], "range": ["#008B8B", "#A52A2A", "#8A2BE2", "#696969", "#DAA520"]}, "legend": null}}},
    {"data": {"name": "lab"}, "transform": [{"filter": "datum.p === '6'"}], "mark": {"type": "text", "font": "Liberation Sans", "fontSize": 45, "align": "center", "baseline": "alphabetic"}, "encoding": {"text": {"field": "v", "type": "nominal"}, "fill": {"field": "v", "type": "nominal", "scale": {"domain": ["i", "e", "a", "o", "u"], "range": ["#008B8B", "#A52A2A", "#8A2BE2", "#5E5E5E", "#DAA520"]}, "legend": null}}}
   ]}
 ]},
 {"spacing": 0, "bounds": "flush", "vconcat": [
  {"width": 354, "height": 46, "view": {"fill": "#D9D9D9", "stroke": null}, "data": {"values": [{"p": "9"}]}, "mark": {"type": "text", "font": "Liberation Sans", "fontSize": 22, "fontWeight": "bold", "color": "#1A1A1A", "baseline": "middle"}, "encoding": {"text": {"field": "p", "type": "nominal"}}},
  {"width": 354, "height": 179, "view": {"fill": "#EBEBEB", "stroke": null},
   "encoding": {
    "x": {"field": "x", "type": "quantitative", "scale": {"domain": [-0.098, 2.967], "reverse": true, "nice": false, "zero": false}, "axis": {"values": [0, 0.5, 1, 1.5, 2, 2.5], "title": null, "labelExpr": "datum.value % 1 === 0 ? format(datum.value, 'd') : ''", "tickOpacity": {"condition": {"test": "datum.value % 1 === 0", "value": 1}, "value": 0}, "gridWidth": {"condition": {"test": "datum.value % 1 === 0", "value": 1.6}, "value": 0.8}}},
    "y": {"field": "y", "type": "quantitative", "scale": {"domain": [0.054, 1.068], "reverse": true, "nice": false, "zero": false}, "axis": {"values": [0.125, 0.25, 0.375, 0.5, 0.625, 0.75, 0.875, 1], "labels": false, "ticks": false, "title": null, "gridWidth": {"condition": {"test": "(datum.value*4) % 1 === 0", "value": 1.6}, "value": 0.8}}}
   },
   "layer": [
    {"data": {"name": "ell"}, "transform": [{"filter": "datum.p === '9'"}], "mark": {"type": "line", "interpolate": "cardinal-closed", "strokeWidth": 2, "opacity": 0.78}, "encoding": {"order": {"field": "k", "type": "quantitative"}, "detail": {"field": "v", "type": "nominal"}, "stroke": {"field": "v", "type": "nominal", "scale": {"domain": ["i", "e", "a", "o", "u"], "range": ["#008B8B", "#A52A2A", "#8A2BE2", "#696969", "#DAA520"]}, "legend": null}}},
    {"data": {"name": "lab"}, "transform": [{"filter": "datum.p === '9'"}], "mark": {"type": "text", "font": "Liberation Sans", "fontSize": 45, "align": "center", "baseline": "alphabetic"}, "encoding": {"text": {"field": "v", "type": "nominal"}, "fill": {"field": "v", "type": "nominal", "scale": {"domain": ["i", "e", "a", "o", "u"], "range": ["#008B8B", "#A52A2A", "#8A2BE2", "#5E5E5E", "#DAA520"]}, "legend": null}}}
   ]}
 ]}
]}
],
"spacing": 14
}
